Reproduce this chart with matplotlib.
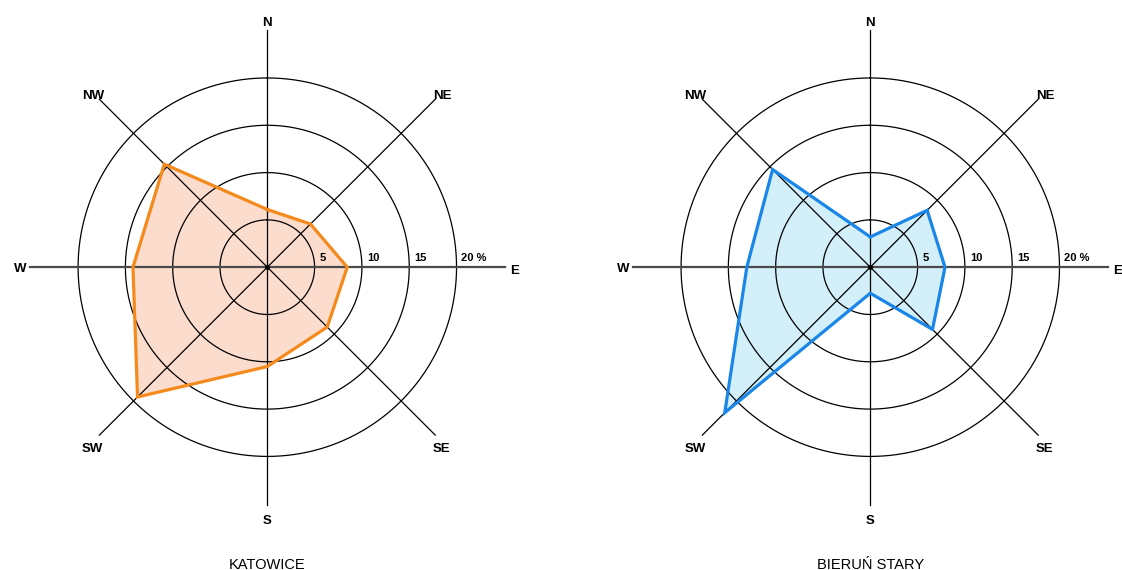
import numpy as np
import matplotlib
matplotlib.use('Agg')
from matplotlib import pyplot as plt

plt.rcParams['font.family'] = ['Liberation Sans', 'DejaVu Sans']

# wind directions, clockwise from north
directions = ['N', 'NE', 'E', 'SE', 'S', 'SW', 'W', 'NW']
angles_deg = [0, 45, 90, 135, 180, 225, 270, 315]

# frequency of wind directions (%)
katowice = [6.1, 6.45, 8.45, 8.95, 10.5, 19.4, 14.2, 15.4]
bierun = [3.2, 8.5, 7.9, 9.3, 2.75, 21.75, 13.05, 14.6]

rings = [5, 10, 15, 20]
ring_labels = ['5', '10', '15', '20 %']
stations = ['KATOWICE', 'BIERUŃ STARY']

# small vertical nudge of direction labels (points)
label_dy = [-2, -2.5, -2.5, -5, -5, -5, -1.5, -2.5]


def wind_rose(ax, values, line_col, fill_col, title):
	ax.set_theta_zero_location('N')
	ax.set_theta_direction(-1)
	ax.set_ylim(0, 26)
	ax.axis('off')

	th = np.deg2rad(angles_deg)
	# closed polygon
	th_c = np.append(th, th[0])
	val_c = np.append(values, values[0])
	ax.fill(th_c, val_c, color=fill_col, lw=0, zorder=1)
	ax.plot(th_c, val_c, color=line_col, lw=2.3, zorder=4, solid_joinstyle='miter')

	# rings
	full = np.linspace(0, 2 * np.pi, 361)
	for r in rings:
		ax.plot(full, np.full(len(full), r), color='black', lw=0.9, zorder=2)

	# direction axes
	for a in angles_deg:
		if a in (90, 270):
			ax.plot([np.deg2rad(a)] * 2, [0, 25.1], color='#4a4a4a', lw=1.6, zorder=3)
		else:
			ax.plot([np.deg2rad(a)] * 2, [0, 25.1], color='black', lw=0.9, zorder=3)
	ax.plot([0], [0], 'o', color='black', ms=2.5, zorder=3)

	for a, d, dy in zip(angles_deg, directions, label_dy):
		ax.annotate(d, xy=(np.deg2rad(a), 26.1), xytext=(0, dy), textcoords='offset points',
			ha='center', va='center', fontsize=9.5, fontweight='bold', annotation_clip=False)

	for r, lbl in zip(rings, ring_labels):
		ax.annotate(lbl, xy=(np.pi / 2, r), xytext=(3.5, 4.5), textcoords='offset points',
			ha='left', va='baseline', fontsize=8, fontweight='bold', annotation_clip=False)

	ax.text(np.pi, 31.5, title, ha='center', va='center', fontsize=10.5, clip_on=False)


fig = plt.figure(figsize=(11.22, 5.7), dpi=100)
ax1 = fig.add_axes([0.019, 0.0995, 0.4385, 0.8635], projection='polar')
ax2 = fig.add_axes([0.5564, 0.0995, 0.4385, 0.8635], projection='polar')

wind_rose(ax1, katowice, '#f48a1c', '#fbdccd', stations[0])
wind_rose(ax2, bierun, '#1a86e8', '#d2effa', stations[1])

fig.savefig('out.png', dpi=100)
